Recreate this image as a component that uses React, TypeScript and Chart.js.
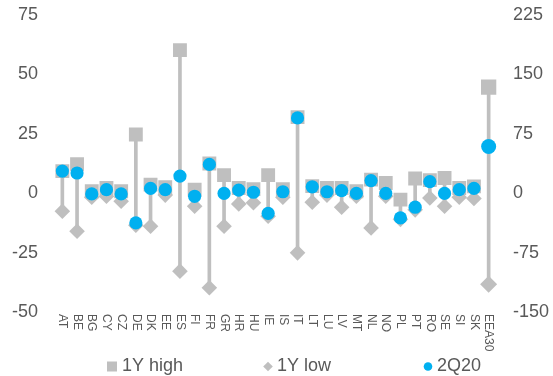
import React, { useEffect, useRef } from 'react';
import { Chart, registerables } from 'chart.js';

Chart.register(...registerables);

// ---------- data ----------
const categories = ['AT', 'BE', 'BG', 'CY', 'CZ', 'DE', 'DK', 'EE', 'ES', 'FI', 'FR', 'GR', 'HR', 'HU', 'IE', 'IS', 'IT', 'LT', 'LU', 'LV', 'MT', 'NL', 'NO', 'PL', 'PT', 'RO', 'SE', 'SI', 'SK', 'EEA30'];

// country values (left axis), AT .. SK
const high1Y = [9.3, 12.2, 0.8, 2.2, 0.8, 24.7, 3.6, 2.5, 60.2, 1.5, 12.5, 7.6, 2.2, 1.7, 7.6, 1.7, 32.0, 3.0, 2.2, 2.2, 0.8, 5.7, 4.3, -2.7, 6.2, 5.5, 6.4, 2.2, 2.9];
const low1Y = [-7.6, -16.0, -1.7, -1.3, -3.4, -13.5, -13.9, -0.8, -32.8, -5.5, -39.8, -13.9, -4.5, -4.0, -9.7, -1.7, -25.1, -3.8, -0.8, -5.9, -1.3, -14.6, -1.3, -11.0, -7.0, -2.0, -5.5, -1.7, -2.2];
const q2_2020 = [9.3, 8.5, -0.3, 1.5, -0.3, -12.5, 2.0, 1.5, 7.2, -1.3, 12.1, -0.1, 1.3, 0.4, -8.5, 0.6, 31.7, 2.7, 0.6, 1.1, -0.1, 5.3, -0.1, -10.4, -5.9, 4.9, -0.1, 1.5, 2.0];

// EEA30 values (right axis)
const eeaHigh = 134;
const eeaLow = -115;
const eeaQ2 = 59;

const seriesNames = ['1Y high', '1Y low', '2Q20'];
const leftTicks = { min: -50, max: 75, step: 25 };
const rightTicks = { min: -150, max: 225, step: 75 };

// ---------- styles ----------
const GRAY = '#bfbfbf';
const BLUE = '#00b0f0';
const TEXT = '#595959';
const FONT = "'Liberation Sans', Arial, Helvetica, sans-serif";
const LEGEND_X = [107, 263, 423];

const xLabelPlugin = {
  id: 'xLabelsClockwise',
  afterDraw(chart: any) {
    const { ctx, chartArea } = chart;
    const xs = chart.scales.x;
    ctx.save();
    ctx.font = `12px ${FONT}`;
    ctx.fillStyle = TEXT;
    ctx.textAlign = 'left';
    ctx.textBaseline = 'middle';
    (chart.data.labels as string[]).forEach((lab, i) => {
      const x = xs.getPixelForValue(i);
      ctx.save();
      ctx.translate(x, chartArea.bottom + 2);
      ctx.rotate(Math.PI / 2);
      ctx.fillText(lab, 0, 0);
      ctx.restore();
    });
    ctx.restore();
  },
};

const legendPlugin = {
  id: 'bottomLegend',
  afterDraw(chart: any) {
    const { ctx } = chart;
    const items = seriesNames
      .map((name) => chart.data.datasets.find((d: any) => d.label === name))
      .filter(Boolean);
    const y = 366.5;
    ctx.save();
    ctx.font = `18px ${FONT}`;
    ctx.textBaseline = 'middle';
    ctx.textAlign = 'left';
    items.forEach((ds: any, i: number) => {
      const x = LEGEND_X[i];
      const cx = x + 5;
      ctx.fillStyle = ds.pointBackgroundColor;
      ctx.beginPath();
      if (ds.pointStyle === 'rect') {
        ctx.rect(cx - 5, y - 5, 10, 10);
      } else if (ds.pointStyle === 'rectRot') {
        ctx.moveTo(cx, y - 4.8);
        ctx.lineTo(cx + 4.8, y);
        ctx.lineTo(cx, y + 4.8);
        ctx.lineTo(cx - 4.8, y);
        ctx.closePath();
      } else {
        ctx.arc(cx, y, 4.3, 0, Math.PI * 2);
      }
      ctx.fill();
      ctx.fillStyle = TEXT;
      ctx.fillText(ds.label, x + (ds.pointStyle === 'rect' ? 15 : 14), y);
    });
    ctx.restore();
  },
};

const fixVertical = (width: number) => (s: any) => {
  s.width = width;
  s.paddingTop = 0;
  s.paddingBottom = 0;
};

export default function App() {
  const ref = useRef<HTMLCanvasElement | null>(null);

  useEffect(() => {
    document.body.style.margin = '0';
    const n = categories.length;
    const countryPad = (arr: number[]) => [...arr, null];
    const eeaOnly = (v: any) => categories.map((_, i) => (i === n - 1 ? v : null));

    const pointDs = (label: string, data: any[], style: string, color: string, radius: number, axis: string, order: number) => ({
      type: 'line' as const,
      label,
      data,
      yAxisID: axis,
      showLine: false,
      pointStyle: style,
      pointRadius: radius,
      pointHoverRadius: radius,
      pointBackgroundColor: color,
      pointBorderColor: color,
      pointBorderWidth: 0,
      backgroundColor: color,
      borderColor: color,
      order,
    });

    const chart = new Chart(ref.current as HTMLCanvasElement, {
      type: 'bar',
      data: {
        labels: categories,
        datasets: [
          {
            type: 'bar',
            label: 'range',
            data: [...low1Y.map((l, i) => [l, high1Y[i]]), null] as any,
            yAxisID: 'y',
            backgroundColor: GRAY,
            barThickness: 3,
            grouped: false,
            order: 10,
          } as any,
          {
            type: 'bar',
            label: 'range EEA30',
            data: eeaOnly([eeaLow, eeaHigh]) as any,
            yAxisID: 'y2',
            backgroundColor: GRAY,
            barThickness: 3,
            grouped: false,
            order: 10,
          } as any,
          pointDs('1Y low', countryPad(low1Y), 'rectRot', GRAY, 7.8, 'y', 3),
          pointDs('1Y high', countryPad(high1Y), 'rect', GRAY, 9.8, 'y', 2),
          pointDs('2Q20', countryPad(q2_2020), 'circle', BLUE, 6.6, 'y', 1),
          pointDs('EEA30 1Y low', eeaOnly(eeaLow), 'rectRot', GRAY, 8.5, 'y2', 3),
          pointDs('EEA30 1Y high', eeaOnly(eeaHigh), 'rect', GRAY, 10.8, 'y2', 2),
          pointDs('EEA30 2Q20', eeaOnly(eeaQ2), 'circle', BLUE, 7.5, 'y2', 1),
        ] as any,
      },
      options: {
        animation: false,
        responsive: false,
        layout: { padding: { top: 15, bottom: 20, left: 0, right: 0 } },
        plugins: {
          legend: { display: false },
          tooltip: { enabled: false },
          title: { display: false },
        },
        scales: {
          x: {
            type: 'category',
            offset: true,
            grid: { display: false, drawTicks: false },
            border: { display: false },
            ticks: { display: false },
            afterFit: (s: any) => { s.height = 44; s.paddingLeft = 0; s.paddingRight = 0; },
          },
          y: {
            position: 'left',
            min: leftTicks.min,
            max: leftTicks.max,
            grid: { display: false, drawTicks: false },
            border: { display: false },
            ticks: { stepSize: leftTicks.step, color: TEXT, font: { size: 18, family: FONT }, padding: 17 },
            afterFit: fixVertical(55),
          },
          y2: {
            position: 'right',
            min: rightTicks.min,
            max: rightTicks.max,
            grid: { display: false, drawTicks: false },
            border: { display: false },
            ticks: { stepSize: rightTicks.step, color: TEXT, font: { size: 18, family: FONT }, padding: 17 },
            afterFit: fixVertical(57),
          },
        },
      } as any,
      plugins: [xLabelPlugin, legendPlugin],
    });
    return () => chart.destroy();
  }, []);

  return (
    <div style={{ width: 553, height: 376, background: '#fff' }}>
      <canvas ref={ref} width={553} height={376} style={{ display: 'block' }} />
    </div>
  );
}
